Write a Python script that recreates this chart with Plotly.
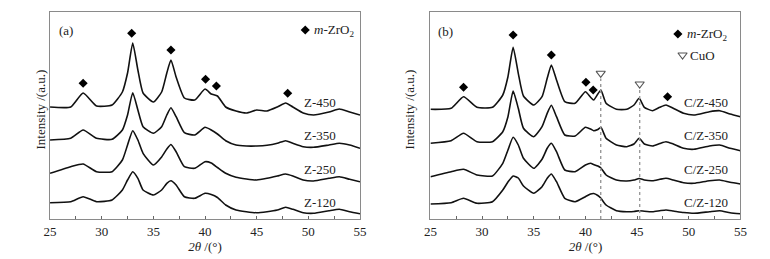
import plotly.graph_objects as go

# ---------------- data (intensity in a.u.) ----------------
two_theta_a = [25, 27, 28.2, 29.5, 31, 32, 32.5, 33, 33.5, 34, 35, 35.8, 36.3, 36.7, 37.2, 38, 39,
               40, 40.6, 41.2, 42, 43, 44, 45, 46, 47, 47.8, 48.5, 49.5, 50.5, 52, 53, 54, 55]
z450 = [112, 112, 126, 113, 114, 127, 146, 176, 149, 126, 117, 127, 146, 159, 142, 121, 119,
        130, 125, 123, 112, 108, 106, 109, 108, 112, 116, 112, 106, 104, 107, 110, 107, 104]
z350 = [79, 80.7, 89, 80.7, 79.7, 89, 104, 126.3, 109, 92.3, 85.7, 92.3, 104, 111.3, 102.3, 86.3, 84,
        91.7, 89, 85, 78.3, 74, 73, 73, 73.7, 75.7, 78.3, 75.7, 72.3, 71.7, 74, 75.7, 74, 70.7]
z250 = [45.7, 52.3, 55, 47.3, 47.3, 59, 74, 88.3, 79, 65.7, 54, 62, 70, 74.5, 67.3, 52.3, 50.7,
        57.3, 56, 51.5, 45.7, 41.7, 40, 39, 40.7, 43, 45, 43, 39, 38, 40.7, 42.3, 39.7, 37.3]
z120 = [16.3, 17.3, 22.3, 17.3, 19, 29, 39, 47.3, 40.7, 29, 24, 29, 35.7, 38.3, 34, 22.3, 20.7,
        25.7, 24.5, 21.5, 14, 9, 7.3, 6.3, 7.3, 9, 11.7, 9.7, 6.3, 5.7, 8.3, 9.7, 7.3, 5.3]

two_theta_b = [25, 27, 28.2, 29.5, 31, 32, 32.5, 33, 33.5, 34, 35, 35.8, 36.3, 36.7, 37.2, 38, 39,
               40, 40.5, 40.8, 41.2, 41.5, 42, 43, 44, 44.7, 45.2, 45.7, 46.5, 47.2, 47.8, 48.5,
               49.5, 50.5, 52, 53, 54, 55]
cz450 = [109.7, 110.7, 122.3, 111.7, 111.7, 124, 142.3, 171.7, 145.7, 123, 114, 122.3, 140.7, 154, 139,
         117.3, 115.7, 127.3, 121.7, 119, 125, 129, 115.7, 109.7, 109.7, 114, 120.7, 111.7, 108.3,
         111.7, 114, 110.7, 105.7, 104, 107.3, 108.3, 105, 102.3]
cz350 = [75.7, 78.3, 85.7, 77.3, 77.3, 87.3, 102.3, 128, 110.7, 90.7, 82.3, 92.3, 105.7, 113.7, 102.3,
         84, 83, 91.7, 90, 88.3, 89.5, 91.7, 80.7, 74, 72.3, 75, 80.7, 75, 73, 75.5, 77.3, 75,
         70.7, 69.7, 73, 74, 70.7, 68.3]
cz250 = [42.3, 47.3, 49.7, 44, 43, 55.7, 69, 81.7, 74, 60.7, 50.7, 59.7, 70.7, 75.7, 67.3,
         49, 47.3, 54, 55.7, 54.5, 53, 51, 44, 39, 38, 39, 40.5, 39, 38.3, 39.7, 40.7, 39,
         36.3, 35.7, 38.3, 39, 36.7, 35]
cz120 = [15, 16.3, 20.7, 15.7, 17.3, 29, 37, 43, 41, 33, 25.7, 32.3, 40.7, 45, 37.3,
         20.7, 17.3, 22.3, 25, 25.5, 23.5, 20.7, 14, 8.3, 7.3, 7.5, 8.3, 7.8, 7.3, 8.3, 9, 8,
         6.5, 5.7, 7.3, 8.3, 6.3, 5.3]

labels_a = ["Z-450", "Z-350", "Z-250", "Z-120"]
labels_b = ["C/Z-450", "C/Z-350", "C/Z-250", "C/Z-120"]

zro2_a_x = [28.2, 32.9, 36.7, 40.05, 41.1, 48.0]
zro2_a_y = [135.7, 185.7, 169, 139.7, 133, 125.7]
zro2_b_x = [28.2, 33.0, 36.7, 40.05, 40.75, 47.95]
zro2_b_y = [131.7, 184, 164, 136.7, 129, 122.3]
cuo_b_x = [41.48, 45.25]
cuo_b_y = [145.7, 135]
cuo_line_top = [140.5, 130]

tick_vals = [25, 30, 35, 40, 45, 50, 55]

# ---------------- figure ----------------
# the page body has an 8px margin, so the figure is 8px smaller and every offset shifted by 8px
OFF = 8
W, H = 770 - OFF, 259 - OFF
FONT = "Liberation Serif"
fig = go.Figure()

line_style = dict(color="#111111", width=1.6, shape="spline", smoothing=0.5)
for ys in (z450, z350, z250, z120):
    fig.add_trace(go.Scatter(x=two_theta_a, y=ys, mode="lines", line=line_style,
                             xaxis="x", yaxis="y", showlegend=False, hoverinfo="skip"))
for ys in (cz450, cz350, cz250, cz120):
    fig.add_trace(go.Scatter(x=two_theta_b, y=ys, mode="lines", line=line_style,
                             xaxis="x2", yaxis="y2", showlegend=False, hoverinfo="skip"))

diamond = dict(symbol="diamond", size=7, color="#000000")
tri = dict(symbol="triangle-down-open", size=8, color="#555555", line=dict(width=1.1, color="#555555"))
fig.add_trace(go.Scatter(x=zro2_a_x, y=zro2_a_y, mode="markers", marker=diamond,
                         xaxis="x", yaxis="y", showlegend=False, hoverinfo="skip"))
fig.add_trace(go.Scatter(x=zro2_b_x, y=zro2_b_y, mode="markers", marker=diamond,
                         xaxis="x2", yaxis="y2", showlegend=False, hoverinfo="skip"))
fig.add_trace(go.Scatter(x=cuo_b_x, y=cuo_b_y, mode="markers", marker=tri,
                         xaxis="x2", yaxis="y2", showlegend=False, hoverinfo="skip"))
# legend keys
fig.add_trace(go.Scatter(x=[49.7], y=[189], mode="markers", marker=diamond,
                         xaxis="x", yaxis="y", showlegend=False, hoverinfo="skip"))
fig.add_trace(go.Scatter(x=[48.95], y=[185], mode="markers", marker=diamond,
                         xaxis="x2", yaxis="y2", showlegend=False, hoverinfo="skip"))
fig.add_trace(go.Scatter(x=[49.4], y=[164], mode="markers", marker=tri,
                         xaxis="x2", yaxis="y2", showlegend=False, hoverinfo="skip"))

for xv, top in zip(cuo_b_x, cuo_line_top):
    fig.add_shape(type="line", xref="x2", yref="y2", x0=xv, x1=xv, y0=0, y1=top,
                  line=dict(color="#999999", width=1.4, dash="dot"))

txt = dict(family=FONT, size=13, color="#222222")
ann = []
label_y = [117, 83.5, 50, 16.5]
for lab, yv in zip(labels_a, label_y):
    ann.append(dict(x=51.1, y=yv, xref="x", yref="y", text=lab, showarrow=False, font=txt))
for lab, yv in zip(labels_b, label_y):
    ann.append(dict(x=51.65, y=yv, xref="x2", yref="y2", text=lab, showarrow=False, font=txt))
ann.append(dict(x=26.5, y=189, xref="x", yref="y", text="(a)", showarrow=False, font=txt))
ann.append(dict(x=26.5, y=188, xref="x2", yref="y2", text="(b)", showarrow=False, font=txt))
ann.append(dict(x=50.4, y=189, xref="x", yref="y", text="<i>m</i>-ZrO<sub>2</sub>", showarrow=False,
                xanchor="left", font=txt))
ann.append(dict(x=49.6, y=185, xref="x2", yref="y2", text="<i>m</i>-ZrO<sub>2</sub>", showarrow=False,
                xanchor="left", font=txt))
ann.append(dict(x=49.9, y=164, xref="x2", yref="y2", text="CuO", showarrow=False,
                xanchor="left", font=txt))
for xp in (25 - OFF, 410 - OFF):
    ann.append(dict(x=xp / W, y=0.53, xref="paper", yref="paper", text="Intensity /(a.u.)", textangle=-90,
                    showarrow=False, font=txt))

xcommon = dict(range=[25, 55], tickvals=tick_vals, ticks="inside", ticklen=3, tickcolor="#666666",
               minor=dict(ticks="inside", dtick=2.5, tick0=25, ticklen=3, tickcolor="#666666"),
               showline=True, linecolor="#8a8a8a", linewidth=1, mirror=True, showgrid=False,
               zeroline=False, tickfont=txt,
               title=dict(text="<i>2θ</i> /(°)", font=txt, standoff=4))
ycommon = dict(range=[0, 207], showticklabels=False, ticks="", showline=True, linecolor="#8a8a8a",
               linewidth=1, mirror=True, showgrid=False, zeroline=False)

fig.update_layout(
    width=W, height=H,
    margin=dict(l=0, r=0, t=12 - OFF, b=40),
    paper_bgcolor="white", plot_bgcolor="white",
    xaxis=dict(domain=[(44.7 - OFF) / W, (360 - OFF) / W], anchor="y", **xcommon),
    xaxis2=dict(domain=[(431.7 - OFF) / W, (747 - OFF) / W], anchor="y2", **xcommon),
    yaxis=dict(domain=[0, 1], anchor="x", **ycommon),
    yaxis2=dict(domain=[0, 1], anchor="x2", **ycommon),
    annotations=ann,
    showlegend=False,
)

fig.write_html("out.html")
